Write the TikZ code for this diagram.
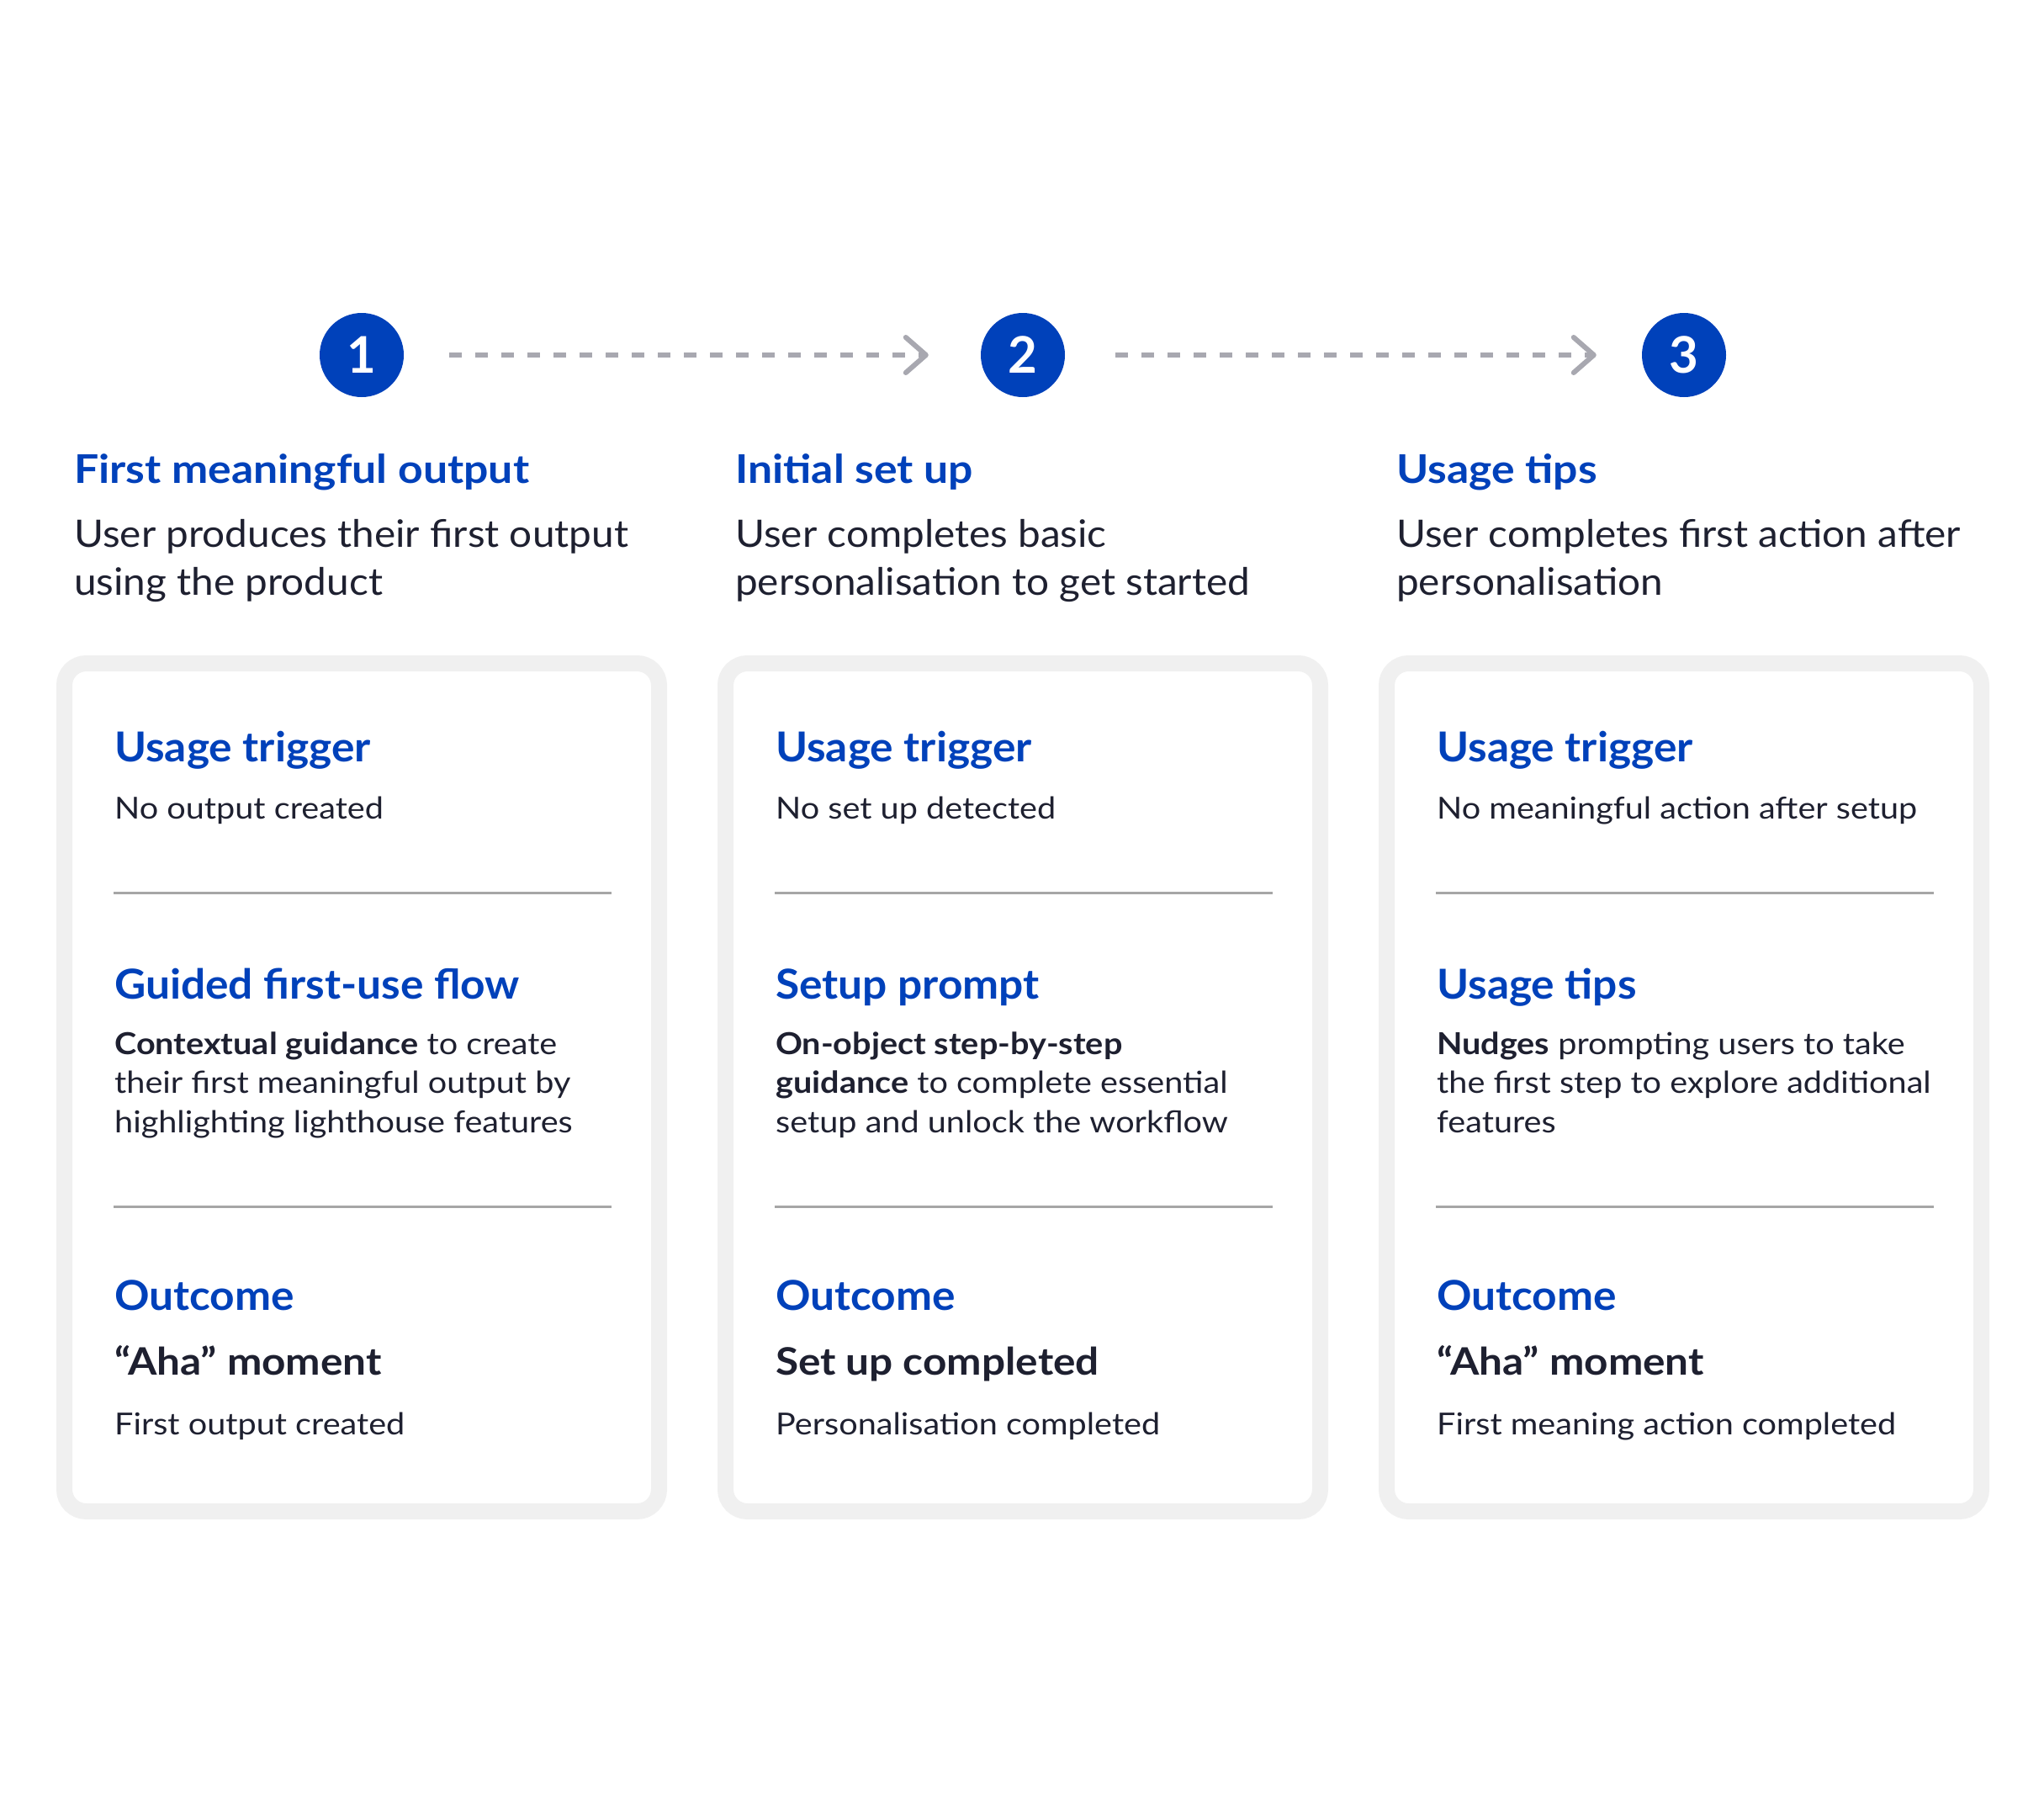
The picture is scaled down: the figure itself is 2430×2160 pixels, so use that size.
\documentclass[tikz,border=0pt]{standalone}
\usepackage{fontspec}
\setmainfont{Lato}
\newfontfamily\fTitle{Lato}[FakeStretch=1.10]
\newfontfamily\fSub{Lato}[FakeStretch=1.06]
\newfontfamily\fHead{Lato}[FakeStretch=1.05]
\newfontfamily\fBody{Lato}[FakeStretch=1.10]
\newfontfamily\fAha{Lato}[FakeStretch=1.10]
\usetikzlibrary{arrows.meta}
\definecolor{brand}{RGB}{0,65,186}
\definecolor{ink}{RGB}{30,32,48}
\definecolor{dashgray}{RGB}{168,168,176}
\definecolor{cardgray}{RGB}{240,240,240}
\definecolor{rulegray}{RGB}{166,166,166}
\begin{document}
\begin{tikzpicture}[x=1pt,y=-1pt,
  numcircle/.style={circle, fill=brand, minimum size=100pt, inner sep=0pt, text=white, font=\fontsize{60}{60}\selectfont\bfseries},
  flow/.style={draw=dashgray, line width=6pt, dash pattern=on 15pt off 16pt, -{Straight Barb[length=24pt,width=42pt,line width=6pt,round]}},
  ttl/.style={anchor=base west, inner sep=0pt, text=brand, font=\fTitle\fontsize{47}{56}\selectfont\bfseries},
  subt/.style={anchor=base west, inner sep=0pt, text=ink, font=\fSub\fontsize{45}{56}\selectfont},
  head/.style={anchor=base west, inner sep=0pt, text=brand, font=\fHead\fontsize{49}{56}\selectfont\bfseries},
  bodytxt/.style={anchor=base west, inner sep=0pt, text=ink, font=\fBody\fontsize{36}{46}\selectfont},
  ahatxt/.style={anchor=base west, inner sep=0pt, text=ink, font=\fAha\fontsize{45}{50}\selectfont\bfseries},
  card/.style={draw=cardgray, line width=19pt, fill=white, rounded corners=26pt},
  divider/.style={draw=rulegray, line width=3pt}
]
\useasboundingbox[fill=white] (0,0) rectangle (2430,2160);

% step circles
\node[numcircle] (c1) at (430,422) {1};
\node[numcircle] (c2) at (1216,422) {2};
\node[numcircle] (c3) at (2002,422) {3};
\draw[flow, shorten <=54pt, shorten >=62pt] (c1) -- (c2);
\draw[flow, shorten <=60pt, shorten >=54pt] (c2) -- (c3);

% ---------- column 1 ----------
\node[ttl]  (t1)  at (88,574) {First meaningful output};
\node[subt] (s1a) at (88,650) {User produces their first output};
\node[subt] (s1b) at (88,707) {using the product};
\draw[card] (76.5,788.5) rectangle (783.5,1796.5);
\node[head]    (h1a) at (136,905)  {Usage trigger};
\node[bodytxt] (b1a) at (136,973)  {No output created};
\draw[divider] (135,1061) -- (727,1061);
\node[head]    (h1b) at (136,1187) {Guided first-use flow};
\node[bodytxt] (b1b) at (136,1253) {\textbf{Contextual guidance} to create};
\node[bodytxt] (b1c) at (136,1299) {their first meaningful output by};
\node[bodytxt] (b1d) at (136,1346) {highlighting lighthouse features};
\draw[divider] (135,1434) -- (727,1434);
\node[head]    (h1c) at (136,1557) {Outcome};
\node[ahatxt]  (a1)  at (136,1634) {“Aha” moment};
\node[bodytxt] (o1)  at (136,1705) {First output created};

% ---------- column 2 ----------
\begin{scope}[xshift=786pt]
\node[ttl]  (t2)  at (88,574) {Initial set up};
\node[subt] (s2a) at (88,650) {User completes basic};
\node[subt] (s2b) at (88,707) {personalisation to get started};
\draw[card] (76.5,788.5) rectangle (783.5,1796.5);
\node[head]    (h2a) at (136,905)  {Usage trigger};
\node[bodytxt] (b2a) at (136,973)  {No set up detected};
\draw[divider] (135,1061) -- (727,1061);
\node[head]    (h2b) at (136,1187) {Setup prompt};
\node[bodytxt] (b2b) at (136,1253) {\textbf{On-object step-by-step}};
\node[bodytxt] (b2c) at (136,1299) {\textbf{guidance} to complete essential};
\node[bodytxt] (b2d) at (136,1346) {setup and unlock the workflow};
\draw[divider] (135,1434) -- (727,1434);
\node[head]    (h2c) at (136,1557) {Outcome};
\node[ahatxt]  (a2)  at (136,1634) {Set up completed};
\node[bodytxt] (o2)  at (136,1705) {Personalisation completed};
\end{scope}

% ---------- column 3 ----------
\begin{scope}[xshift=1572pt]
\node[ttl]  (t3)  at (88,574) {Usage tips};
\node[subt] (s3a) at (88,650) {User completes first action after};
\node[subt] (s3b) at (88,707) {personalisation};
\draw[card] (76.5,788.5) rectangle (783.5,1796.5);
\node[head]    (h3a) at (136,905)  {Usage trigger};
\node[bodytxt] (b3a) at (136,973)  {No meaningful action after setup};
\draw[divider] (135,1061) -- (727,1061);
\node[head]    (h3b) at (136,1187) {Usage tips};
\node[bodytxt] (b3b) at (136,1253) {\textbf{Nudges} prompting users to take};
\node[bodytxt] (b3c) at (136,1299) {the first step to explore additional};
\node[bodytxt] (b3d) at (136,1346) {features};
\draw[divider] (135,1434) -- (727,1434);
\node[head]    (h3c) at (136,1557) {Outcome};
\node[ahatxt]  (a3)  at (136,1634) {“Aha” moment};
\node[bodytxt] (o3)  at (136,1705) {First meaning action completed};
\end{scope}
\end{tikzpicture}
\end{document}
